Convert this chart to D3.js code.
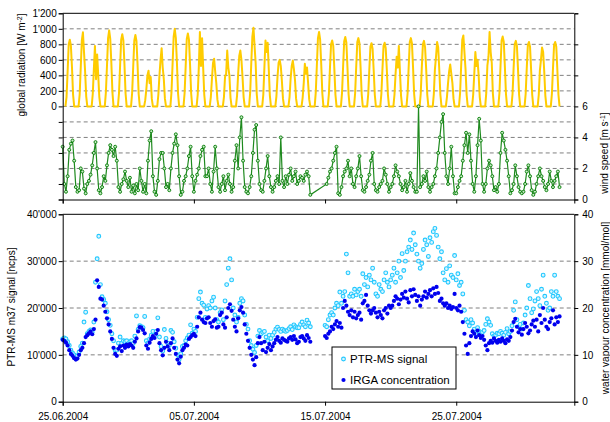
<!DOCTYPE html>
<html><head><meta charset="utf-8">
<script src="https://cdn.jsdelivr.net/npm/d3@7"></script>
<style>
body{margin:0;background:#fff}
svg{display:block}
text{font-family:"Liberation Sans",Arial,sans-serif;fill:#000}
</style>
</head><body><svg id="c" width="610" height="422"></svg>
<script>
// ---------- data ----------
const startDate = "2004-06-25";
const endDate = "2004-08-03";
const xTickDates = ["2004-06-25", "2004-07-05", "2004-07-15", "2004-07-25"];
const radHours = [5, 7, 9, 11, 13, 15, 17, 19, 21];
const sampleHours = [0, 3, 6, 9, 12, 15, 18, 21];

// global radiation [W m-2], one row per day at radHours
const radiation = [
  [0,120,450,800,860,780,500,150,0],
  [0,150,500,850,955,700,450,130,0],
  [0,160,480,780,350,670,400,120,0],
  [0,180,520,880,980,870,560,180,0],
  [0,170,520,860,930,850,540,170,0],
  [0,170,510,850,920,840,530,160,0],
  [0,80,220,400,460,300,380,100,0],
  [0,150,400,600,750,500,350,100,0],
  [0,180,540,900,1000,880,560,170,0],
  [0,170,520,870,940,860,540,170,0],
  [0,150,500,960,520,880,500,150,0],
  [0,120,350,560,615,450,300,90,0],
  [0,120,380,420,720,500,400,110,0],
  [0,140,420,650,720,600,380,120,0],
  [0,180,560,900,1015,780,560,160,0],
  [0,150,500,850,700,820,480,140,0],
  [0,130,380,560,600,520,330,100,0],
  [0,120,360,520,590,480,340,100,0],
  [0,110,300,550,420,500,300,90,0],
  [0,180,530,880,960,860,540,170,0],
  [0,160,500,800,850,780,480,150,0],
  [0,170,510,840,895,820,500,160,0],
  [0,170,510,830,880,810,500,160,0],
  [0,160,480,770,815,740,460,150,0],
  [0,160,480,780,820,750,470,150,0],
  [0,150,420,640,500,780,450,140,0],
  [0,170,510,830,880,810,500,160,0],
  [0,160,500,800,845,760,480,150,0],
  [0,160,480,640,830,760,470,150,0],
  [0,120,300,450,540,420,300,100,0],
  [0,170,520,860,915,700,480,150,0],
  [0,150,420,700,520,600,400,120,0],
  [0,180,530,640,960,700,560,170,0],
  [0,170,520,850,900,830,510,160,0],
  [0,160,500,800,845,780,480,150,0],
  [0,160,490,790,830,770,470,150,0],
  [0,150,460,600,760,700,450,140,0],
  [0,160,490,790,830,770,470,150,0]
];

// wind speed [m s-1], one row per day at sampleHours
const windSpeed = [
  [3.4,1.0,0.5,1.5,3.2,3.6,3.8,2.5],
  [0.8,0.5,0.6,2.0,1.8,0.7,0.4,1.0],
  [1.2,1.6,2.2,3.0,3.7,2.0,0.6,0.4],
  [0.8,1.5,1.2,2.2,3.0,3.5,3.2,2.8],
  [3.4,2.5,0.8,0.5,1.0,1.3,1.8,1.2],
  [0.8,1.4,0.5,0.9,0.4,1.0,0.6,2.0],
  [1.2,0.5,1.0,0.4,2.5,3.8,4.4,1.5],
  [0.5,0.3,1.2,2.6,3.0,3.0,2.0,0.8],
  [1.0,0.6,2.0,3.0,3.6,4.2,3.5,1.5],
  [0.3,0.5,1.2,1.5,2.0,2.8,3.4,1.5],
  [0.5,1.2,1.6,2.0,2.8,3.2,3.4,1.5],
  [1.5,2.0,1.0,0.5,1.8,3.4,2.0,0.8],
  [0.5,1.0,1.5,0.6,1.2,1.6,1.0,0.5],
  [0.8,2.5,3.5,2.0,4.0,5.3,2.5,0.8],
  [0.5,0.4,0.8,1.5,3.0,4.5,4.8,2.5],
  [1.0,0.6,0.5,1.2,2.0,2.8,1.5,0.8],
  [0.5,0.8,1.2,1.5,1.0,4.0,1.2,0.8],
  [1.5,1.0,1.6,2.0,1.2,1.5,1.8,1.0],
  [1.2,1.5,1.4,1.2,1.6,1.8,1.5,0.3],
  [null,null,null,null,null,null,null,null],
  [null,1.0,1.4,1.8,2.0,2.5,3.0,3.4],
  [0.4,0.3,0.8,1.5,1.8,2.0,2.5,1.5],
  [2.0,1.0,0.8,1.5,2.0,2.8,1.5,0.6],
  [0.5,0.8,1.2,1.6,2.5,3.0,1.0,0.6],
  [0.5,0.8,1.0,1.2,2.0,1.6,1.0,0.5],
  [0.8,1.0,1.5,2.2,1.8,1.5,1.0,0.6],
  [0.8,1.2,0.5,1.0,1.7,1.2,0.8,0.5],
  [0.5,6.0,0.8,1.0,1.5,1.2,1.8,0.8],
  [0.5,0.8,1.0,1.5,2.0,3.0,4.0,5.0],
  [5.5,3.0,1.5,1.0,2.0,3.4,1.5,0.4],
  [0.4,0.8,1.2,1.5,2.5,3.5,4.3,3.0],
  [4.2,2.5,1.0,0.5,1.5,3.5,5.2,3.8],
  [1.0,0.5,1.0,2.0,2.5,2.2,1.5,0.6],
  [0.8,0.5,1.0,3.0,4.3,3.8,3.2,2.5],
  [1.5,0.4,0.6,1.0,2.2,1.5,0.8,0.5],
  [0.4,0.5,1.0,1.8,2.2,1.5,0.6,0.3],
  [0.5,1.0,1.5,2.0,1.5,1.2,0.8,0.6],
  [1.0,1.8,1.2,0.8,1.2,1.5,1.8,0.8]
];

// PTR-MS m37 signal [thousand ncps], one row per day at sampleHours
const ptrSignal = [
  [13.4,13.6,13.4,12.8,12.0,11.0,10.4,10.0],
  [9.4,9.8,10.6,11.8,12.5,17.0,19.1,14.5],
  [15.0,15.3,14.8,17.0,25.5,30.5,35.3,25.0],
  [22.4,21.8,21.0,19.2,17.5,16.3,14.5,13.0],
  [11.0,11.0,12.5,13.8,12.5,13.0,12.8,13.0],
  [12.4,12.8,13.0,12.4,14.0,18.3,15.4,16.2],
  [16.0,15.8,18.2,13.0,12.5,13.4,14.2,15.0],
  [14.2,15.0,17.9,13.8,11.8,10.8,15.4,13.5],
  [12.5,12.0,15.2,14.8,12.8,11.4,10.0,9.0],
  [10.2,11.8,12.0,13.0,13.6,14.2,16.4,14.6],
  [15.5,15.0,18.0,22.0,23.4,21.0,20.6,18.0],
  [19.8,20.5,20.0,21.5,22.3,20.0,17.5,17.0],
  [19.0,19.6,17.5,21.5,25.0,28.5,30.5,26.0],
  [20.0,18.5,17.0,18.0,21.0,22.0,21.5,18.5],
  [16.5,15.5,13.0,12.0,11.2,10.5,12.0,14.0],
  [15.2,14.5,14.8,15.0,13.8,13.0,14.2,13.5],
  [14.2,14.8,15.5,15.9,15.4,15.0,15.5,15.2],
  [15.0,15.2,15.6,16.0,15.4,16.4,16.0,15.8],
  [15.8,16.5,17.0,16.4,16.0,17.4,16.8,16.0],
  [null,null,null,null,null,null,null,null],
  [16.3,16.0,17.5,18.5,19.0,18.5,20.0,21.0],
  [20.5,23.4,21.0,22.5,23.5,31.5,27.5,22.5],
  [23.0,22.5,24.0,22.8,23.5,24.0,22.5,27.3],
  [25.0,26.5,24.5,27.0,26.0,28.5,25.5,23.0],
  [22.5,25.0,24.0,23.5,26.0,27.5,25.5,24.5],
  [26.0,27.0,28.5,25.5,27.5,30.0,26.5,31.6],
  [28.0,30.0,32.0,33.0,34.5,32.5,36.0,33.5],
  [31.5,30.0,28.5,29.5,32.5,34.5,33.5,31.0],
  [35.0,34.0,36.3,37.0,35.5,33.0,30.5,32.0],
  [27.5,26.0,28.4,25.5,29.0,27.0,26.5,31.2],
  [26.0,27.3,24.8,25.5,23.0,19.5,17.5,17.0],
  [16.2,17.5,16.8,15.5,14.5,15.8,15.0,14.5],
  [14.8,15.2,16.5,17.7,17.0,16.3,14.5,14.0],
  [14.2,14.6,14.5,15.0,14.6,14.2,14.8,15.6],
  [14.5,15.0,16.2,19.5,21.3,17.5,16.0,16.5],
  [15.5,16.8,18.5,20.0,24.8,22.0,19.0,19.8],
  [21.5,23.5,22.0,20.5,24.0,27.0,22.5,21.0],
  [19.5,20.0,23.5,22.5,27.0,23.5,22.5,22.0]
];

// IRGA water vapour concentration [mmol/mol], one row per day at sampleHours
const irgaConc = [
  [13.2,13.0,12.6,12.0,11.0,10.2,9.8,9.3],
  [9.0,9.2,10.0,11.0,11.5,12.5,13.8,14.2],
  [14.6,15.0,14.4,15.5,17.5,25.9,24.5,22.0],
  [21.8,20.5,19.2,17.8,16.5,15.0,13.4,11.5],
  [10.2,9.8,11.3,11.8,10.8,12.0,11.5,12.2],
  [11.8,12.3,12.0,11.5,12.8,13.5,15.0,15.9],
  [15.8,15.3,14.6,12.0,11.3,12.6,13.4,14.0],
  [13.6,14.5,15.3,12.5,11.0,9.9,11.5,12.8],
  [11.8,11.0,12.5,13.5,11.5,10.2,9.0,8.2],
  [9.6,11.0,11.5,12.2,12.0,13.4,13.8,14.2],
  [14.5,14.0,16.0,18.0,19.0,17.5,17.0,16.8],
  [17.8,18.0,16.8,16.0,17.2,17.6,15.8,16.0],
  [18.5,19.0,16.5,15.8,18.0,20.0,20.8,19.4],
  [17.5,16.0,15.0,17.8,19.5,20.2,19.0,16.5],
  [14.5,13.0,11.5,10.0,9.0,7.8,9.5,12.5],
  [13.8,12.5,11.0,12.8,10.6,11.5,12.3,11.0],
  [11.8,12.5,13.2,13.8,13.0,12.6,13.5,13.2],
  [13.0,12.8,13.5,13.8,13.2,14.0,13.3,12.5],
  [12.8,13.8,14.0,13.5,13.0,14.2,13.6,12.8],
  [null,null,null,null,null,null,null,null],
  [14.0,13.6,14.5,15.0,16.0,15.5,16.5,17.2],
  [16.0,16.8,15.8,20.0,21.5,20.5,19.2,18.5],
  [19.5,18.0,19.2,17.8,18.5,19.0,17.5,21.0],
  [21.5,22.8,20.5,19.5,18.8,19.5,20.0,19.0],
  [18.0,19.2,18.5,17.8,19.5,20.0,18.8,20.5],
  [20.0,20.5,21.5,22.5,22.0,20.8,21.8,23.0],
  [22.2,23.5,22.0,21.2,23.8,22.5,24.0,22.8],
  [21.5,22.5,20.5,21.8,22.5,23.5,22.2,23.0],
  [23.8,22.5,24.2,23.0,24.5,23.2,21.5,22.0],
  [21.0,20.5,21.0,20.0,20.5,19.8,20.2,23.0],
  [20.0,19.5,20.5,19.2,17.0,14.5,12.0,10.2],
  [12.5,14.0,15.0,14.5,13.8,15.2,14.2,13.6],
  [14.0,13.2,12.0,11.0,12.5,13.0,12.6,13.5],
  [13.0,12.6,13.2,12.8,13.5,13.0,12.5,13.3],
  [13.0,13.8,15.2,17.0,17.7,16.0,14.8,15.5],
  [14.3,15.5,16.8,16.0,14.6,15.2,16.5,17.3],
  [16.0,17.5,15.0,18.5,16.8,20.0,17.5,16.0],
  [15.5,17.0,17.8,19.5,16.5,18.0,17.0,18.2]
];

const radTicks = [0, 200, 400, 600, 800, 1000, 1200];
const windTicks = [0, 2, 4, 6];
const ptrTicks = [0, 10000, 20000, 30000, 40000];
const h2oTicks = [0, 10, 20, 30, 40];
const legendLabels = ["PTR-MS signal", "IRGA concentration"];

// ---------- helpers ----------
const t0 = Date.parse(startDate + "T00:00:00Z");
function expand(rows, hours, scaleFactor) {
  const out = [];
  rows.forEach((row, day) => row.forEach((v, k) => {
    if (v !== null) out.push({t: new Date(t0 + (day * 24 + hours[k]) * 3600e3), v: v * scaleFactor});
  }));
  return out;
}
const radPts = expand(radiation, radHours, 1);
const windPts = expand(windSpeed, sampleHours, 1);
const ptrPts = expand(ptrSignal, sampleHours, 1000);
const irgaPts = expand(irgaConc, sampleHours, 1);

const loc = d3.formatLocale({decimal: ".", thousands: "'", grouping: [3], currency: ["", ""]});
const fmt = loc.format(",");

// ---------- layout ----------
const L = 62.7, R = 574.3;
const topY0 = 13.3, topY1 = 199.5;
const botY0 = 214.3, botY1 = 401.7;

const svg = d3.select("#c");
const x = d3.scaleUtc().domain([new Date(startDate + "T00:00:00Z"), new Date(endDate + "T00:00:00Z")]).range([L, R]);
const yRad = d3.scaleLinear().domain([-1200, 1200]).range([topY1, topY0]);
const yWind = d3.scaleLinear().domain([0, 12]).range([topY1, topY0]);
const yPtr = d3.scaleLinear().domain([0, 40000]).range([botY1, botY0]);
const yH2o = d3.scaleLinear().domain([0, 40]).range([botY1, botY0]);
const xTicks = xTickDates.map(d => new Date(d + "T00:00:00Z"));

const gridCol = "#808080";
svg.append("g").selectAll("line").data(d3.range(-1000, 1001, 200)).join("line")
  .attr("x1", L).attr("x2", R).attr("y1", d => yRad(d)).attr("y2", d => yRad(d))
  .attr("stroke", gridCol).attr("stroke-width", 1).attr("stroke-dasharray", "4,3");
svg.append("g").selectAll("line").data(ptrTicks.slice(1, -1)).join("line")
  .attr("x1", L).attr("x2", R).attr("y1", d => yPtr(d)).attr("y2", d => yPtr(d))
  .attr("stroke", gridCol).attr("stroke-width", 1).attr("stroke-dasharray", "4,3");

// radiation line
svg.append("path").datum(radPts)
  .attr("d", d3.line().x(d => x(d.t)).y(d => yRad(d.v)))
  .attr("fill", "none").attr("stroke", "#FFCC00").attr("stroke-width", 2).attr("stroke-linejoin", "round");

// wind line + markers
svg.append("path").datum(windPts)
  .attr("d", d3.line().x(d => x(d.t)).y(d => yWind(d.v)))
  .attr("fill", "none").attr("stroke", "#1f8a1f").attr("stroke-width", 1.2);
svg.append("g").selectAll("circle").data(windPts).join("circle")
  .attr("cx", d => x(d.t)).attr("cy", d => yWind(d.v)).attr("r", 1.5)
  .attr("fill", "#c8eac8").attr("stroke", "#007a00").attr("stroke-width", 0.9);

// PTR markers
svg.append("g").selectAll("circle").data(ptrPts).join("circle")
  .attr("cx", d => x(d.t)).attr("cy", d => yPtr(d.v)).attr("r", 1.9)
  .attr("fill", "#d9f5ff").attr("stroke", "#22C8FF").attr("stroke-width", 1.1);
// IRGA markers
svg.append("g").selectAll("circle").data(irgaPts).join("circle")
  .attr("cx", d => x(d.t)).attr("cy", d => yH2o(d.v)).attr("r", 2.1)
  .attr("fill", "#0000EE");

// ---------- axes ----------
function styleAxis(g) {
  g.selectAll("path.domain").attr("stroke", "#000").attr("stroke-width", 1);
  g.selectAll(".tick line").attr("stroke", "#000");
  g.selectAll("text").attr("font-size", 10).attr("font-family", '"Liberation Sans", Arial, sans-serif').attr("fill", "#000");
}
svg.append("line").attr("x1", L).attr("x2", R).attr("y1", topY0).attr("y2", topY0).attr("stroke", "#000");
svg.append("line").attr("x1", L).attr("x2", R).attr("y1", botY0).attr("y2", botY0).attr("stroke", "#000");

svg.append("g").attr("transform", `translate(${L},0)`)
  .call(d3.axisLeft(yRad).tickValues(d3.range(-1200, 1201, 200)).tickSize(4).tickPadding(2)
    .tickFormat(d => radTicks.includes(d) ? fmt(d) : ""))
  .call(styleAxis);
svg.append("g").attr("transform", `translate(${R},0)`)
  .call(d3.axisRight(yWind).tickValues(d3.range(0, 13, 2)).tickSize(4).tickPadding(4)
    .tickFormat(d => windTicks.includes(d) ? d : ""))
  .call(styleAxis);
svg.append("g").attr("transform", `translate(0,${topY1})`)
  .call(d3.axisBottom(x).tickValues(xTicks).tickSize(4).tickFormat(""))
  .call(styleAxis);
svg.append("g").attr("transform", `translate(${L},0)`)
  .call(d3.axisLeft(yPtr).tickValues(ptrTicks).tickSize(4).tickPadding(2).tickFormat(fmt))
  .call(styleAxis);
svg.append("g").attr("transform", `translate(${R},0)`)
  .call(d3.axisRight(yH2o).tickValues(h2oTicks).tickSize(4).tickPadding(4))
  .call(styleAxis);
svg.append("g").attr("transform", `translate(0,${botY1})`)
  .call(d3.axisBottom(x).tickValues(xTicks).tickSize(4).tickPadding(7).tickFormat(d3.utcFormat("%d.%m.%Y")))
  .call(styleAxis);

// ---------- axis titles ----------
function vTitle(xp, yp, parts) {
  const t = svg.append("text").attr("transform", `translate(${xp},${yp}) rotate(-90)`)
    .attr("text-anchor", "middle").attr("font-size", 10);
  parts.forEach(p => {
    const s = t.append("tspan").text(p.s);
    if (p.sup) s.attr("font-size", 7).attr("dy", -3.5);
    if (p.after) s.attr("dy", 3.5);
  });
}
vTitle(25, 65, [{s: "global radiation [W m"}, {s: "-2", sup: true}, {s: "]", after: true}]);
vTitle(608, 153, [{s: "wind speed [m s"}, {s: "-1", sup: true}, {s: "]", after: true}]);
vTitle(14.5, 307, [{s: "PTR-MS m37 signal [ncps]"}]);
vTitle(608.5, 308, [{s: "water vapour concentration [mmol/mol]"}]);

// ---------- legend ----------
const lg = svg.append("g");
lg.append("rect").attr("x", 332).attr("y", 347).attr("width", 124).attr("height", 42)
  .attr("fill", "#fff").attr("stroke", "#000").attr("stroke-width", 1);
lg.append("circle").attr("cx", 343.5).attr("cy", 359).attr("r", 1.9)
  .attr("fill", "#d9f5ff").attr("stroke", "#22C8FF").attr("stroke-width", 1.1);
lg.append("circle").attr("cx", 343.5).attr("cy", 380).attr("r", 2.1).attr("fill", "#0000EE");
lg.append("text").attr("x", 350).attr("y", 363).attr("font-size", 11.5).text(legendLabels[0]);
lg.append("text").attr("x", 350).attr("y", 384).attr("font-size", 11.5).text(legendLabels[1]);
</script>
</body></html>
